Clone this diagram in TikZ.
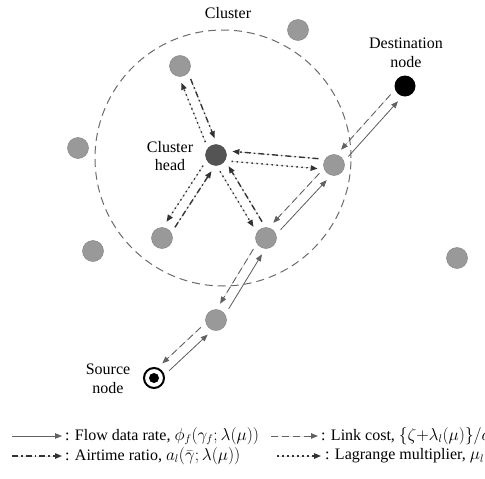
\documentclass[tikz,border=0pt]{standalone}
\usepackage{fontspec}
\setmainfont{Liberation Serif}
\usetikzlibrary{arrows.meta,calc}
\tikzset{
  tip/.style={-{Triangle[length=7pt,width=5.5pt]}},
  flowline/.style={tip,draw=black!62,fill=black!62,line width=0.8pt},
  costline/.style={tip,draw=black!62,fill=black!62,line width=0.9pt,dash pattern=on 7pt off 4pt},
  airline/.style={tip,draw=black!80,fill=black!80,line width=1.4pt,dash pattern=on 6pt off 3pt on 1.6pt off 3pt},
  lagline/.style={tip,draw=black!80,fill=black!80,line width=1.4pt,dash pattern=on 1.5pt off 3.5pt},
  gnode/.style={circle,fill=black!40,draw=black!47,line width=0.5pt,minimum size=21pt,inner sep=0pt},
  hnode/.style={circle,fill=black!67,draw=black!72,minimum size=21pt,inner sep=0pt},
  dnode/.style={circle,fill=black,minimum size=21pt,inner sep=0pt},
  snode/.style={circle,draw=black,line width=2pt,fill=white,minimum size=20pt,inner sep=0pt},
  sdot/.style={circle,fill=black,minimum size=10pt,inner sep=0pt},
  lab/.style={align=center,inner sep=0pt},
  legtext/.style={anchor=west,inner sep=0pt}
}
\newcommand\arrR[3]{\draw[#1] ($(#2)!16pt!(#3)!5pt!-90:(#3)$) -- ($(#3)!16pt!(#2)!5pt!90:(#2)$);}
\newcommand\arrL[3]{\draw[#1] ($(#2)!16pt!(#3)!5pt!90:(#3)$) -- ($(#3)!16pt!(#2)!5pt!-90:(#2)$);}
\begin{document}
\begin{tikzpicture}[x=1pt,y=-1pt,font=\fontsize{16}{18.5}\selectfont]
\useasboundingbox (0,0) rectangle (485,479);
% cluster boundary
\node[circle,draw=black!58,line width=1pt,dash pattern=on 8pt off 5pt,minimum size=256pt,inner sep=0pt] (cl) at (223,158) {};
\node[lab] (cltext) at (228,13) {Cluster};
% nodes
\node[gnode] (o1) at (298,30) {};
\node[gnode] (o2) at (78,148) {};
\node[gnode] (o3) at (93,251) {};
\node[gnode] (o4) at (457,258) {};
\node[gnode] (tl) at (180,66) {};
\node[hnode] (ch) at (216,155) {};
\node[gnode] (rt) at (334,165) {};
\node[gnode] (bl) at (162,238) {};
\node[gnode] (bm) at (266,238) {};
\node[gnode] (m1) at (216,320) {};
\node[dnode] (dst) at (405,86) {};
\node[snode] (src) at (154,378) {};
\node[sdot] (srcdot) at (154,378) {};
% labels
\node[lab] (dlab) at (406,53) {Destination\\node};
\node[lab] (hlab) at (170,156) {Cluster\\head};
\node[lab] (slab) at (108,379) {Source\\node};
% route links
\arrR{flowline}{src}{m1}
\arrR{costline}{m1}{src}
\arrR{flowline}{m1}{bm}
\arrR{costline}{bm}{m1}
\arrR{flowline}{bm}{rt}
\arrR{costline}{rt}{bm}
\arrR{flowline}{rt}{dst}
\arrR{costline}{dst}{rt}
% cluster head links
\arrL{airline}{tl}{ch}
\arrL{lagline}{ch}{tl}
\arrR{airline}{rt}{ch}
\arrR{lagline}{ch}{rt}
\arrR{lagline}{ch}{bl}
\arrR{airline}{bl}{ch}
\arrR{lagline}{ch}{bm}
\arrR{airline}{bm}{ch}
% legend
\coordinate (a1) at (12,436); \coordinate (b1) at (62,436);
\coordinate (a2) at (271,436); \coordinate (b2) at (318,436);
\coordinate (a3) at (12,456); \coordinate (b3) at (62,456);
\coordinate (a4) at (277,456); \coordinate (b4) at (321,456);
\draw[flowline] (a1) -- (b1);
\draw[costline] (a2) -- (b2);
\draw[airline] (a3) -- (b3);
\draw[lagline] (a4) -- (b4);
\node[legtext] (t1) at (65,436) {: Flow data rate, $\phi_f(\gamma_f;\lambda(\mu))$};
\node[legtext] (t2) at (321,436) {: Link cost, $\{\zeta{+}\lambda_l(\mu)\}/d_l$};
\node[legtext] (t3) at (65,456) {: Airtime ratio, $a_l(\bar{\gamma};\lambda(\mu))$};
\node[legtext] (t4) at (325,456) {: Lagrange multiplier, $\mu_l$};
\end{tikzpicture}
\end{document}
